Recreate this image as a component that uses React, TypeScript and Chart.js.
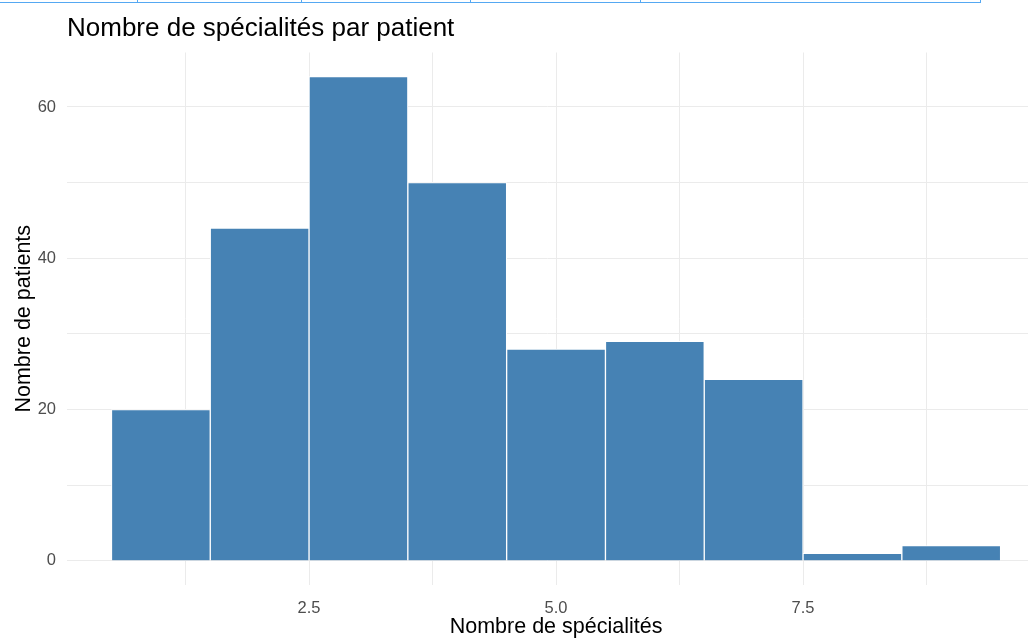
import React, { useEffect, useRef } from 'react';
import { Chart, registerables } from 'chart.js';

Chart.register(...registerables);

const bins = [1, 2, 3, 4, 5, 6, 7, 8, 9];
const counts = [20, 44, 64, 50, 28, 29, 24, 1, 2];
const xMajorTicks = [2.5, 5, 7.5];
const xMinorTicks = [1.25, 3.75, 6.25, 8.75];
const yMajorTicks = [0, 20, 40, 60];
const yMinorTicks = [10, 30, 50];
const chartTitle = 'Nombre de spécialités par patient';
const xTitle = 'Nombre de spécialités';
const yTitle = 'Nombre de patients';
const frameDividers = [137, 301, 470, 640, 980];

const FONT = '"Liberation Sans", Arial, sans-serif';

export default function App() {
  const canvasRef = useRef<HTMLCanvasElement | null>(null);

  useEffect(() => {
    const canvas = canvasRef.current;
    if (!canvas) return;

    const titlePlugin = {
      id: 'textTitles',
      afterDraw(chart: any) {
        const ctx = chart.ctx;
        ctx.save();
        ctx.font = `26px ${FONT}`;
        ctx.fillStyle = '#000000';
        ctx.textAlign = 'left';
        ctx.textBaseline = 'alphabetic';
        ctx.fillText(chartTitle, chart.chartArea.left, 36);
        // x-axis title: centred on the full (unclipped) panel, as in the reference
        const xs = chart.scales.x;
        const cx = (xs.getPixelForValue(0.05) + xs.getPixelForValue(9.95)) / 2;
        ctx.font = `21.5px ${FONT}`;
        ctx.textAlign = 'center';
        ctx.textBaseline = 'middle';
        ctx.fillText(xTitle, cx, 627);
        ctx.restore();
      },
    };

    const chart = new Chart(canvas, {
      type: 'bar',
      data: {
        datasets: [
          {
            data: bins.map((b, i) => ({ x: b, y: counts[i] })),
            backgroundColor: '#4682B4',
            borderColor: '#FFFFFF',
            borderWidth: 1,
            barPercentage: 1,
            categoryPercentage: 1,
          },
        ],
      },
      options: {
        responsive: false,
        animation: false,
        devicePixelRatio: 1,
        layout: { padding: { top: 52.5, left: 0, right: 0, bottom: 0 } },
        plugins: {
          legend: { display: false },
          tooltip: { enabled: false },
          title: { display: false },
        },
        scales: {
          x: {
            type: 'linear',
            min: 0.05,
            max: 9.777,
            offset: false,
            afterBuildTicks: (s: any) => {
              s.ticks = [...xMajorTicks, ...xMinorTicks]
                .sort((a, b) => a - b)
                .map((v) => ({ value: v }));
            },
            afterFit: (s: any) => {
              s.height = 54;
            },
            grid: { color: '#EBEBEB', lineWidth: 1, drawTicks: false, offset: false },
            border: { display: false },
            ticks: {
              autoSkip: false,
              maxRotation: 0,
              padding: 14,
              color: '#4D4D4D',
              font: { size: 16.5, family: FONT },
              callback: (v: any) => (xMajorTicks.includes(Number(v)) ? Number(v).toFixed(1) : ''),
            },
            title: { display: false },
          },
          y: {
            type: 'linear',
            min: -3.2,
            max: 67.2,
            afterBuildTicks: (s: any) => {
              s.ticks = [...yMajorTicks, ...yMinorTicks]
                .sort((a, b) => a - b)
                .map((v) => ({ value: v }));
            },
            afterFit: (s: any) => {
              s.width = 67;
            },
            grid: { color: '#EBEBEB', lineWidth: 1, drawTicks: false, offset: false },
            border: { display: false },
            ticks: {
              autoSkip: false,
              padding: 11,
              color: '#4D4D4D',
              font: { size: 16.5, family: FONT },
              callback: (v: any) => (yMajorTicks.includes(Number(v)) ? String(v) : ''),
            },
            title: {
              display: true,
              text: yTitle,
              color: '#000000',
              font: { size: 21.5, family: FONT },
              padding: { top: 11, bottom: 0 },
            },
          },
        },
      },
      plugins: [titlePlugin],
    });

    return () => {
      chart.destroy();
    };
  }, []);

  return (
    <div
      style={{
        position: 'fixed',
        left: 0,
        top: 0,
        width: 1028,
        height: 639,
        background: '#FFFFFF',
        overflow: 'hidden',
      }}
    >
      <canvas ref={canvasRef} width={1028} height={639} style={{ display: 'block' }} />
      <div
        style={{
          position: 'absolute',
          left: 0,
          top: 2,
          width: 981,
          height: 1,
          background: '#55A8F2',
        }}
      />
      {frameDividers.map((x) => (
        <div
          key={x}
          style={{
            position: 'absolute',
            left: x,
            top: 0,
            width: 1,
            height: 3,
            background: '#55A8F2',
          }}
        />
      ))}
    </div>
  );
}
